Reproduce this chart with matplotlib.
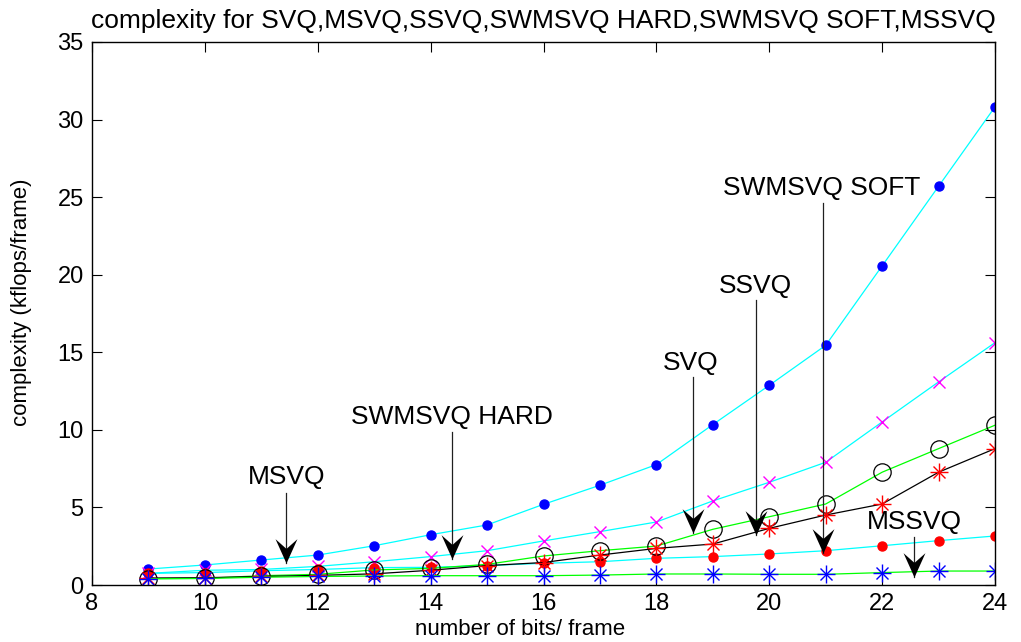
import matplotlib
matplotlib.use("Agg")
import matplotlib.pyplot as plt
from matplotlib.path import Path

bits = [9, 10, 11, 12, 13, 14, 15, 16, 17, 18, 19, 20, 21, 22, 23, 24]

s_blue_dot = [1.03, 1.29, 1.61, 1.93, 2.53, 3.24, 3.87, 5.2, 6.43, 7.76, 10.34, 12.87, 15.45, 20.57, 25.7, 30.82]
s_magenta_x = [0.75, 0.95, 1.0, 1.2, 1.5, 1.83, 2.21, 2.84, 3.44, 4.06, 5.42, 6.62, 7.91, 10.51, 13.09, 15.62]
s_circle = [0.41, 0.43, 0.6, 0.69, 0.97, 1.07, 1.33, 1.87, 2.21, 2.51, 3.59, 4.4, 5.22, 7.27, 8.79, 10.3]
s_red_star = [0.45, 0.47, 0.55, 0.62, 0.72, 0.95, 1.25, 1.45, 1.93, 2.36, 2.64, 3.65, 4.51, 5.22, 7.27, 8.79]
s_red_dot = [0.75, 0.8, 0.92, 1.0, 1.12, 1.14, 1.25, 1.4, 1.5, 1.72, 1.83, 2.0, 2.21, 2.53, 2.86, 3.16]
s_blue_star = [0.4, 0.42, 0.5, 0.55, 0.58, 0.6, 0.6, 0.6, 0.64, 0.71, 0.71, 0.69, 0.69, 0.8, 0.9, 0.9]

labels = ["SWMSVQ SOFT", "SSVQ", "SVQ", "SWMSVQ HARD", "MSVQ", "MSSVQ"]
label_x = [20.93, 19.76, 18.6, 14.37, 11.44, 22.57]
label_y = [25.6, 19.28, 14.31, 10.83, 6.96, 4.06]
arrow_x = [20.95, 19.77, 18.65, 14.38, 11.44, 22.57]
arrow_top = [24.6, 18.4, 13.4, 9.85, 5.93, 3.1]
arrow_tip = [2.06, 3.2, 3.35, 1.68, 1.4, 0.5]

font = ["Liberation Sans", "DejaVu Sans"]
plt.rcParams["font.family"] = font

fig = plt.figure(figsize=(10.21, 6.42), dpi=100)
ax = fig.add_axes([92 / 1021, 57 / 642, 903 / 1021, 543 / 642])

lw = 0.9
ax.plot(bits, s_blue_dot, color=(0, 1, 1), lw=lw, marker="o", ms=6.5, mfc=(0, 0, 1), mec=(0, 0, 1))
ax.plot(bits, s_magenta_x, color=(0, 1, 1), lw=lw, marker="x", ms=8, mfc="none", mec=(1, 0, 1), mew=1)
ax.plot(bits, s_red_dot, color=(0, 1, 1), lw=lw, marker="o", ms=6.5, mfc=(1, 0, 0), mec=(1, 0, 0))
ax.plot(bits, s_circle, color=(0, 1, 0), lw=lw, marker="o", ms=12.5, mfc="none", mec="black", mew=0.9)
ax.plot(bits, s_red_star, color="black", lw=lw)
ax.plot(bits, s_red_star, ls="none", marker="+", ms=13, mec=(1, 0, 0), mew=1)
ax.plot(bits, s_red_star, ls="none", marker="x", ms=9, mec=(1, 0, 0), mew=1)
ax.plot(bits, s_blue_star, color=(0, 1, 0), lw=lw, marker="+", ms=13, mec=(0, 0, 1), mew=1)
ax.plot(bits, s_blue_star, ls="none", marker="x", ms=9, mec=(0, 0, 1), mew=1)

# MATLAB-like chevron arrow head, tip at (0, 0)
head = Path([(0, 0), (-0.45, 1.0), (0, 0.6), (0.45, 1.0), (0, 0)],
            [Path.MOVETO, Path.LINETO, Path.LINETO, Path.LINETO, Path.CLOSEPOLY])

for lab, tx, ty, axx, top, tip in zip(labels, label_x, label_y, arrow_x, arrow_top, arrow_tip):
    ax.text(tx, ty, lab, ha="center", va="center", fontsize=19, color="black")
    ax.plot([axx, axx], [top, tip], color="#202020", lw=0.9)
    ax.plot([axx], [tip], ls="none", marker=head, ms=35, mfc="black", mec="black", mew=0)

ax.set_xlim(8, 24)
ax.set_ylim(0, 35)
ax.set_xticks(range(8, 25, 2))
ax.set_yticks(range(0, 36, 5))
ax.tick_params(direction="in", length=7, width=0.8, top=True, right=True,
               labelsize=17, pad=6)
for sp in ax.spines.values():
    sp.set_linewidth(1.0)

ax.set_title("complexity for SVQ,MSVQ,SSVQ,SWMSVQ HARD,SWMSVQ SOFT,MSSVQ", fontsize=19, pad=10)
ax.set_xlabel("number of bits/ frame", fontsize=16, labelpad=0)
ax.xaxis.set_label_coords(0.474, -0.062)
ax.set_ylabel("complexity (kflops/frame)", fontsize=16)
ax.yaxis.set_label_coords(-0.066, 0.52)

fig.savefig("out.png", dpi=100)
